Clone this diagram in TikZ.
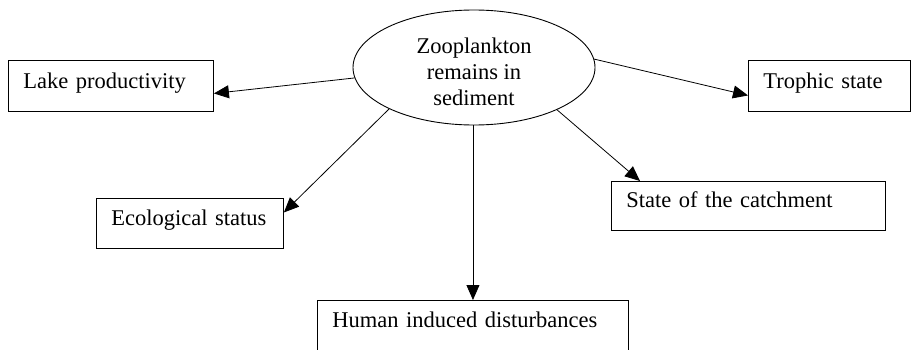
\documentclass[tikz,border=0pt]{standalone}
\usepackage{fontspec}
\setmainfont{Liberation Serif}
\usetikzlibrary{shapes.geometric,arrows.meta}
\tikzset{
  box/.style={draw,rectangle,anchor=north west,line width=0.9pt,inner xsep=15pt,inner ysep=0pt,
              align=left,text height=27pt,text depth=23pt},
  arr/.style={line width=0.8pt,-{Triangle[length=15pt,width=13pt]}}
}
\begin{document}
\begin{tikzpicture}[x=1pt,y=-1pt,font=\fontsize{22.5}{26}\selectfont]
\clip (0,0) rectangle (912,350);
%\draw[step=50,gray,very thin] (0,0) grid (912,350); %background grid
\node[draw,ellipse,line width=0.9pt,minimum width=242pt,minimum height=115pt,inner sep=0pt,
      label={[align=center,yshift=-4.5pt]center:{Zooplankton\\remains in\\sediment}}] (zoo) at (474,67.5) {};
%---------------------------------------------------
\node[box,text width=175pt,text height=28pt] (lake) at (8,60) {Lake productivity};
\node[box,text width=132pt,text height=28pt] (troph) at (748,60) {Trophic state};
\node[box,text width=157pt] (eco) at (96,198) {Ecological status};
\node[box,text width=244pt,text height=26pt] (catch) at (611,181) {State of the catchment};
\node[box,text width=281pt,text depth=70pt] (human) at (317,300) {Human induced disturbances};
%---------------------------------------------------
\draw[arr] (zoo.185) -- ([yshift=-7.5pt]lake.east);
\draw[arr] (zoo.4) -- ([yshift=-9.5pt]troph.west);
\draw[arr] (zoo.206) -- ([yshift=11pt]eco.east);
\draw[arr] (zoo.333) -- ([xshift=29pt]catch.north west);
\draw[arr] (human.north |- zoo.south) -- (human.north);
\end{tikzpicture}
\end{document}
